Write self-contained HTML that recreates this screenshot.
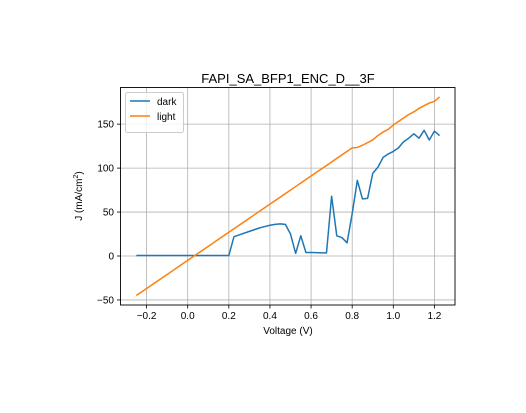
<!DOCTYPE html>
<html><head><meta charset="utf-8"><style>
body{margin:0;background:#fff;}
svg text{font-family:"Liberation Sans","DejaVu Sans",sans-serif;fill:#000;}
</style></head><body>
<svg id="chart" width="526" height="408">
<rect width="526" height="408" fill="#fff"/>
<g id="grid"></g>
<g id="lines"></g>
<rect x="120.5" y="87.5" width="334.5" height="217.5" fill="none" stroke="#000" stroke-width="0.9"/>
<g id="ticks"></g>
<text x="288" y="83" font-size="13" text-anchor="middle">FAPI_SA_BFP1_ENC_D__3F</text>
<text x="288" y="334" font-size="10" text-anchor="middle">Voltage (V)</text>
<text transform="translate(82,196) rotate(-90)" font-size="10" text-anchor="middle">J (mA/cm<tspan dy="-4" font-size="7">2</tspan><tspan dy="4">)</tspan></text>
<g>
<rect x="125.5" y="92.5" width="58" height="40" rx="2" fill="#fff" fill-opacity="0.8" stroke="#ccc"/>
<line x1="130" y1="101" x2="150" y2="101" stroke="#1f77b4" stroke-width="1.5"/>
<text x="157" y="105" font-size="10">dark</text>
<line x1="130" y1="116" x2="150" y2="116" stroke="#ff7f0e" stroke-width="1.5"/>
<text x="157" y="120" font-size="10">light</text>
</g>
</svg>
<script>
const voltage=[-0.25,-0.225,-0.2,-0.175,-0.15,-0.125,-0.1,-0.075,-0.05,-0.025,0,0.025,0.05,0.075,0.1,0.125,0.15,0.175,0.2,0.225,0.25,0.275,0.3,0.325,0.35,0.375,0.4,0.425,0.45,0.475,0.5,0.525,0.55,0.575,0.6,0.625,0.65,0.675,0.7,0.725,0.75,0.775,0.8,0.825,0.85,0.875,0.9,0.925,0.95,0.975,1.0,1.025,1.05,1.075,1.1,1.125,1.15,1.175,1.2,1.225];
const darkJ=[0.5,0.5,0.5,0.5,0.5,0.5,0.5,0.5,0.5,0.5,0.5,0.5,0.5,0.5,0.5,0.5,0.5,0.5,0.5,22,24,26,28,30,32,33.5,35,36,36.5,36,25,3,23,4,4,3.8,3.6,3.5,68,23,21,15,48,86,65,65.5,94,101,112,116,119,123,130,134,139,134,143,132,142,137];
const lightJ=[-45,-41,-37,-33,-29,-25,-21,-17,-13,-9,-5,-1,3,7,11,15,19,23,27,31,35,39,43,47,51,55,59,63,67,71,75,79,83,87,91,95,99,103,107,111,115,119,123,123.5,126,129,132,137,141,144,149,153,157,161,164,168,171,174,176,181];
const xTicks=[-0.2,0,0.2,0.4,0.6,0.8,1.0,1.2];
const xTickLabels=["\u22120.2","0.0","0.2","0.4","0.6","0.8","1.0","1.2"];
const yTicks=[-50,0,50,100,150];
const yTickLabels=["\u221250","0","50","100","150"];
const X=v=>187.7+v*205.6;
const Y=v=>256-v*0.879;
const NS="http://www.w3.org/2000/svg";
const grid=document.getElementById('grid'),ticks=document.getElementById('ticks'),lines=document.getElementById('lines');
function mk(tag,attrs,parent){const e=document.createElementNS(NS,tag);for(const k in attrs)e.setAttribute(k,attrs[k]);parent.appendChild(e);return e;}
xTicks.forEach((t,i)=>{const x=X(t);
 const g=mk('line',{x1:x,x2:x,y1:87.5,y2:305,stroke:'#b0b0b0','stroke-width':0.8},grid);
 
 
 const tk=mk('line',{x1:x,x2:x,y1:305,y2:308.5,stroke:'#000','stroke-width':0.8},ticks);
 
 
 const tx=mk('text',{x:x,y:319,'font-size':10,'text-anchor':'middle'},ticks);tx.textContent=xTickLabels[i];
 
 
});
yTicks.forEach((t,i)=>{const y=Y(t);
 const g=mk('line',{x1:120.5,x2:455,y1:y,y2:y,stroke:'#b0b0b0','stroke-width':0.8},grid);
 
 
 const tk=mk('line',{x1:117,x2:120.5,y1:y,y2:y,stroke:'#000','stroke-width':0.8},ticks);
 
 
 const tx=mk('text',{x:114,y:y+3.5,'font-size':10,'text-anchor':'end'},ticks);tx.textContent=yTickLabels[i];
 
 
});
function series(vals,color,name){
 const p=mk('polyline',{points:voltage.map((v,i)=>X(v)+','+Y(vals[i])).join(' '),fill:'none',stroke:color,'stroke-width':1.5,'stroke-linejoin':'round'},lines);
 
 
}
series(darkJ,'#1f77b4','dark-line');
series(lightJ,'#ff7f0e','light-line');
</script>
</body></html>
